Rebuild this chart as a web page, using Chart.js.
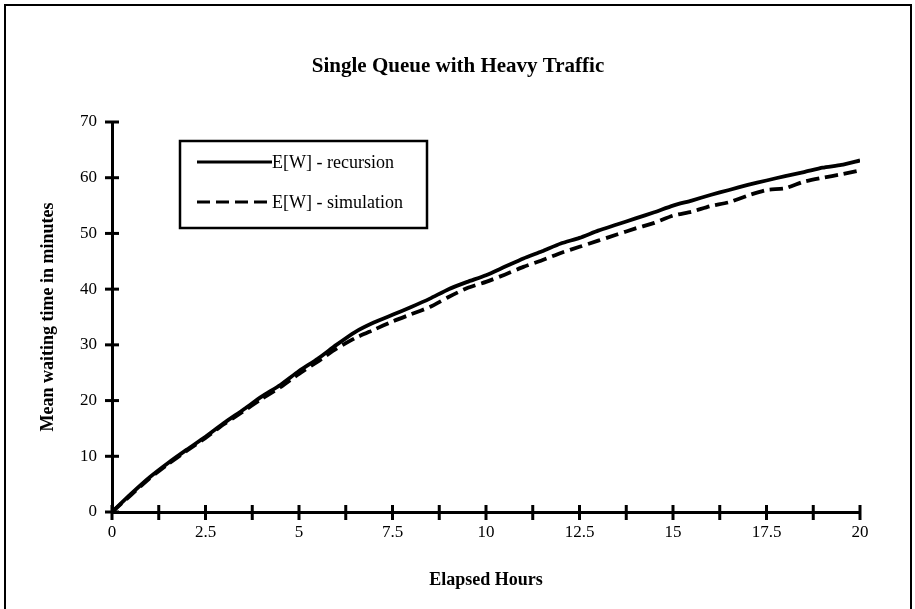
<!DOCTYPE html>
<html><head><meta charset="utf-8">
<script src="https://cdn.jsdelivr.net/npm/chart.js@4.4.0/dist/chart.umd.min.js"></script>
<style>html,body{margin:0;padding:0;background:#fff;}#wrap{width:915px;height:609px;position:relative;}</style>
</head><body><div id="wrap"><canvas id="c" width="915" height="609"></canvas></div>
<script>
const chartTitle = 'Single Queue with Heavy Traffic';
const xTitle = 'Elapsed Hours';
const yTitle = 'Mean waiting time in minutes';
const seriesNames = ['E[W] - recursion', 'E[W] - simulation'];
const hours = [0,0.5,1,1.5,2,2.5,3,3.5,4,4.5,5,5.5,6,6.5,7,7.5,8,8.5,9,9.5,10,10.5,11,11.5,12,12.5,13,13.5,14,14.5,15,15.5,16,16.5,17,17.5,18,18.5,19,19.5,20];
const recursion = [0,3.2,6.2,8.8,11.2,13.5,16,18.3,20.7,22.8,25.3,27.5,30,32.3,34,35.4,36.8,38.3,40,41.3,42.5,44,45.5,46.8,48.2,49.2,50.5,51.6,52.7,53.8,55,55.9,56.9,57.8,58.7,59.5,60.3,61,61.8,62.3,63.1];
const simulation = [0,3,6,8.6,11,13.3,15.8,18,20.3,22.4,24.8,27,29.3,31.2,32.7,34.2,35.5,36.8,38.6,40.2,41.3,42.6,44,45.2,46.5,47.6,48.7,49.8,50.9,51.9,53.2,53.9,54.9,55.6,56.8,57.8,58.1,59.3,60,60.6,61.3];
const xTickMarks = [0,1.25,2.5,3.75,5,6.25,7.5,8.75,10,11.25,12.5,13.75,15,16.25,17.5,18.75,20];
const xTickLabels = [0,2.5,5,7.5,10,12.5,15,17.5,20];
const yTicks = [0,10,20,30,40,50,60,70];

const FONT = "'Liberation Serif', 'Times New Roman', serif";

const deco = {
  id: 'deco',
  beforeDraw(chart) {
    const ctx = chart.ctx;
    ctx.save();
    ctx.fillStyle = '#fff';
    ctx.fillRect(0, 0, chart.width, chart.height);
    ctx.strokeStyle = '#000';
    ctx.lineWidth = 2;
    ctx.beginPath();
    ctx.moveTo(5, chart.height + 2);
    ctx.lineTo(5, 5);
    ctx.lineTo(chart.width - 4, 5);
    ctx.lineTo(chart.width - 4, chart.height + 2);
    ctx.stroke();
    // title
    ctx.fillStyle = '#000';
    ctx.font = 'bold 21px ' + FONT;
    ctx.textAlign = 'center';
    ctx.textBaseline = 'middle';
    ctx.fillText(chartTitle, 458, 67);
    ctx.restore();
  },
  afterDraw(chart) {
    const ctx = chart.ctx;
    const a = chart.chartArea;
    const xs = chart.scales.x, ys = chart.scales.y;
    ctx.save();
    ctx.strokeStyle = '#000';
    ctx.lineWidth = 3;
    ctx.lineCap = 'butt';
    xs.ticks.forEach(t => {
      const px = xs.getPixelForValue(t.value);
      ctx.beginPath(); ctx.moveTo(px, a.bottom - 7); ctx.lineTo(px, a.bottom + 8); ctx.stroke();
    });
    ys.ticks.forEach(t => {
      const py = ys.getPixelForValue(t.value);
      ctx.beginPath(); ctx.moveTo(a.left - 7, py); ctx.lineTo(a.left + 7, py); ctx.stroke();
    });
    // legend box
    const bx = a.left + 68, by = a.top + 19, bw = 247, bh = 87;
    ctx.lineWidth = 2.5;
    ctx.strokeRect(bx, by, bw, bh);
    ctx.font = '18px ' + FONT;
    ctx.fillStyle = '#000';
    ctx.textBaseline = 'middle';
    ctx.textAlign = 'left';
    chart.data.datasets.forEach((ds, i) => {
      const ly = by + 21 + i * 40;
      ctx.save();
      ctx.lineWidth = 3;
      ctx.setLineDash(ds.borderDash || []);
      ctx.beginPath(); ctx.moveTo(bx + 17, ly); ctx.lineTo(bx + 92, ly); ctx.stroke();
      ctx.restore();
      ctx.fillText(ds.label, bx + 92, ly + 1);
    });
    ctx.restore();
  }
};

const pts = arr => hours.map((h, i) => ({x: h, y: arr[i]}));

new Chart(document.getElementById('c'), {
  type: 'line',
  data: {
    datasets: [
      {label: seriesNames[0], data: pts(recursion), borderColor: '#000', borderWidth: 3.8, pointRadius: 0, tension: 0.2, fill: false},
      {label: seriesNames[1], data: pts(simulation), borderColor: '#000', borderWidth: 3.8, borderDash: [13, 6], pointRadius: 0, tension: 0.2, fill: false}
    ]
  },
  options: {
    responsive: false,
    animation: false,
    devicePixelRatio: 1,
    layout: {padding: {left: 0, right: 55, top: 122, bottom: 18.2}},
    plugins: {
      legend: {display: false},
      tooltip: {enabled: false},
      title: {display: false}
    },
    scales: {
      x: {
        type: 'linear', min: 0, max: 20,
        afterBuildTicks: s => { s.ticks = xTickMarks.map(v => ({value: v})); },
        afterFit: s => { s.height = 78.8; },
        grid: {display: false, drawTicks: false},
        border: {display: true, width: 3, color: '#000'},
        ticks: {autoSkip: false, maxRotation: 0, color: '#000', padding: 10, font: {family: FONT, size: 17},
          callback: v => xTickLabels.includes(v) ? String(v) : ''},
        title: {display: true, text: xTitle, color: '#000', font: {family: FONT, size: 18, weight: 'bold'}, padding: {top: 0, bottom: 0}}
      },
      y: {
        min: 0, max: 70,
        afterBuildTicks: s => { s.ticks = yTicks.map(v => ({value: v})); },
        afterFit: s => { s.width = 112; },
        grid: {display: false, drawTicks: false},
        border: {display: true, width: 3, color: '#000'},
        ticks: {color: '#000', padding: 15, font: {family: FONT, size: 17}},
        title: {display: true, text: yTitle, color: '#000', font: {family: FONT, size: 18, weight: 'bold'}, padding: {top: 38, bottom: 0}}
      }
    }
  },
  plugins: [deco]
});
</script></body></html>
